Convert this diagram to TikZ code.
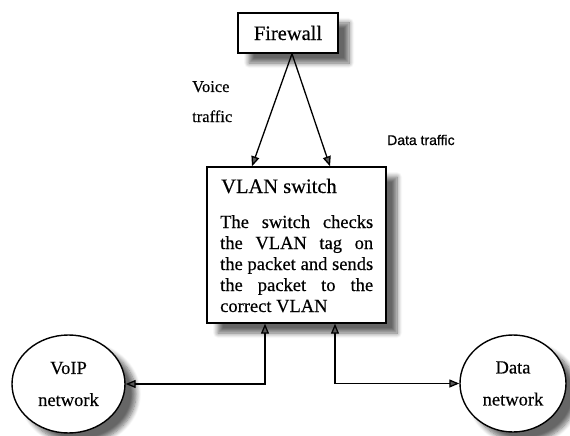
\documentclass[tikz,border=0pt]{standalone}
\usepackage{fontspec}
\setmainfont{Liberation Serif}[FakeBold=0.4]
\newfontfamily\labelsans{Liberation Sans}[FakeBold=0.6]
\usetikzlibrary{arrows.meta,shapes.geometric,shadows.blur}

\begin{document}
\begin{tikzpicture}[x=1pt,y=-1pt,
  softshadow/.style={blur shadow={shadow xshift=11pt,shadow yshift=-10pt,
      shadow blur radius=5pt,shadow blur steps=8,shadow opacity=60}},
  box/.style={draw,line width=1.4pt,fill=white,softshadow,inner sep=0pt},
  net/.style={draw,ellipse,line width=1.4pt,fill=white,softshadow,inner sep=0pt,
      align=center,font=\fontsize{18.5}{32}\selectfont},
  headtip/.tip={Triangle[length=10pt,width=8pt,fill=black!65]},
  oneway/.style={line width=1.3pt,-headtip},
  twoway/.style={line width=1.3pt,headtip-headtip},
  bodyline/.style={anchor=base west,inner sep=0pt,font=\fontsize{18.5}{21}\selectfont},
  note/.style={anchor=base west,inner sep=0pt,font=\fontsize{16.5}{20}\selectfont}
]
\useasboundingbox (0,0) rectangle (570,436);

% firewall at the top
\node[box,minimum width=100pt,minimum height=40pt,font=\fontsize{20.5}{24}\selectfont]
  (fw) at (288,33) {Firewall};

% VLAN switch box with its description
\node[box,minimum width=179pt,minimum height=156pt] (sw) at (296.5,245) {};
\node[anchor=base west,inner sep=0pt,font=\fontsize{20.5}{24}\selectfont]
  (swtitle) at (221,193) {VLAN switch};
\node[bodyline] (sw1) at (220,228) {\makebox[153pt][s]{The switch checks}};
\node[bodyline] (sw2) at (220,249) {\makebox[153pt][s]{the VLAN tag on}};
\node[bodyline] (sw3) at (220,270) {\makebox[153pt][s]{the packet and sends}};
\node[bodyline] (sw4) at (220,291) {\makebox[153pt][s]{the packet to the}};
\node[bodyline] (sw5) at (220,312) {correct VLAN};

% the two networks
\node[net,minimum width=113pt,minimum height=98pt] (voip) at (68.5,384) {VoIP\\network};
\node[net,minimum width=106pt,minimum height=97pt] (data) at (513,383.5) {Data\\network};

% traffic labels
\node[note] (voice1) at (192,92) {Voice};
\node[note] (voice2) at (192,122) {traffic};
\node[anchor=base west,inner sep=0pt,font=\labelsans\fontsize{14}{16}\selectfont]
  (datatr) at (387,145) {Data traffic};

% traffic from the firewall into the switch
\coordinate (leftin) at (252,0);
\coordinate (rightin) at (330,0);
\draw[oneway] ([xshift=4pt]fw.south) -- (sw.north -| leftin);
\draw[oneway] ([xshift=4pt]fw.south) -- (sw.north -| rightin);

% switch to the networks
\coordinate (leftout) at (265,0);
\coordinate (rightout) at (335,0);
\draw[twoway] (sw.south -| leftout) |- (voip.east);
\draw[twoway] (sw.south -| rightout) |- (data.west);
\end{tikzpicture}
\end{document}
